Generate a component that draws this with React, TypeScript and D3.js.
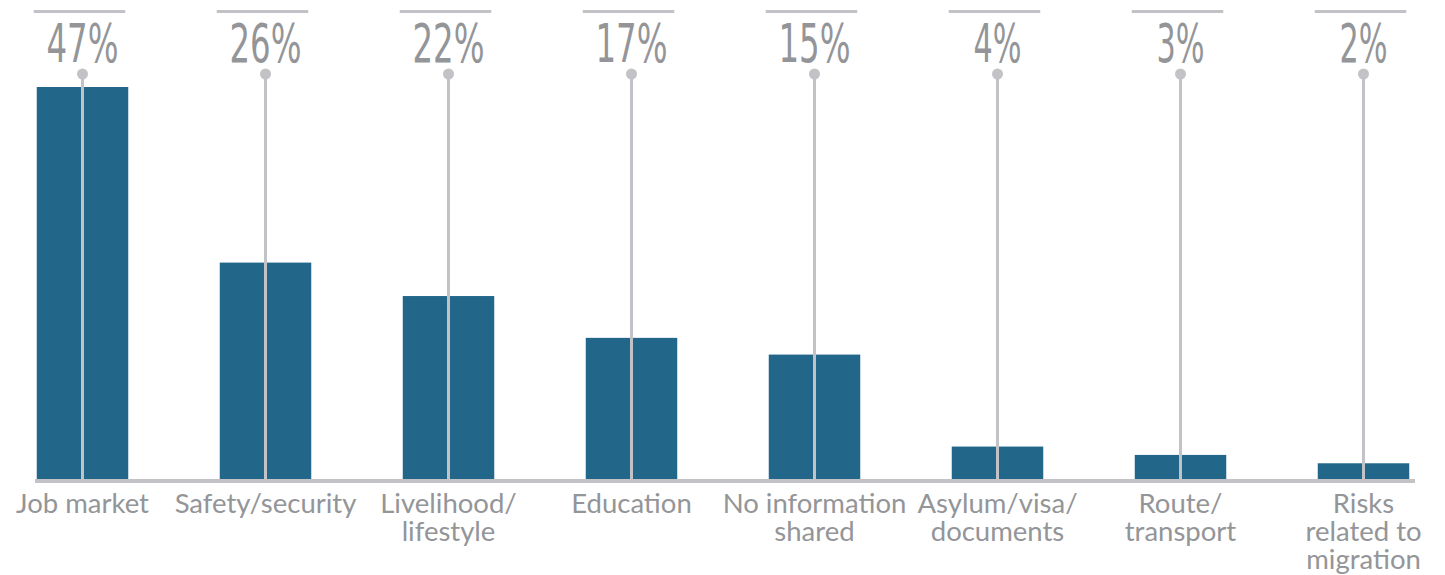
import React from 'react';
import * as d3 from 'd3';

const categories = [
  ['Job market'],
  ['Safety/security'],
  ['Livelihood/', 'lifestyle'],
  ['Education'],
  ['No information', 'shared'],
  ['Asylum/visa/', 'documents'],
  ['Route/', 'transport'],
  ['Risks', 'related to', 'migration'],
];
const values = [47, 26, 22, 17, 15, 4, 3, 2];
const valueLabels = ['47%', '26%', '22%', '17%', '15%', '4%', '3%', '2%'];

const width = 1445;
const height = 575;
const baseline = 480;
const barColor = '#22678a';
const greyLine = '#c3c3c7';
const textGrey = '#939598';

const App: React.FC = () => {
  const keys = categories.map((c) => c.join(' '));

  const x = d3.scaleBand<string>()
    .domain(keys)
    .range([-9, 1455])
    .paddingInner(0.5)
    .paddingOuter(0.25);

  const y = d3.scaleLinear()
    .domain([0, d3.max(values) as number])
    .range([baseline, 87]);

  return (
    <svg width={width} height={height} style={{ position: 'absolute', left: 0, top: 0 }}>
      {keys.map((k, i) => {
        const x0 = x(k) as number;
        const bw = x.bandwidth();
        const cx = x0 + bw / 2;
        const label = valueLabels[i];
        return (
          <g key={k}>
            <rect x={x0} y={y(values[i])} width={bw} height={baseline - y(values[i])} fill={barColor} />
            <line x1={x0 - 3} x2={x0 + bw - 3} y1={11.5} y2={11.5} stroke={greyLine} strokeWidth={3} />
            <text
              x={cx}
              y={62}
              textAnchor="middle"
              fontFamily="'Liberation Sans Narrow', 'DejaVu Sans Condensed', 'Liberation Sans', sans-serif"
              fontSize={54}
              fill={textGrey}
              textLength={24 * (label.length - 1) + 24}
              lengthAdjust="spacingAndGlyphs"
            >
              {label}
            </text>
            <line x1={cx} x2={cx} y1={74} y2={baseline} stroke={greyLine} strokeWidth={3} />
            <circle cx={cx} cy={74} r={5.5} fill={greyLine} />
            {categories[i].map((line, j) => (
              <text
                key={j}
                x={cx}
                y={513 + j * 28}
                textAnchor="middle"
                fontFamily="Lato, 'Open Sans', sans-serif"
                fontSize={27.5}
                fill={textGrey}
              >
                {line}
              </text>
            ))}
          </g>
        );
      })}
      <line x1={35} x2={1415} y1={baseline + 1} y2={baseline + 1} stroke={greyLine} strokeWidth={4} />
    </svg>
  );
};

export default App;
